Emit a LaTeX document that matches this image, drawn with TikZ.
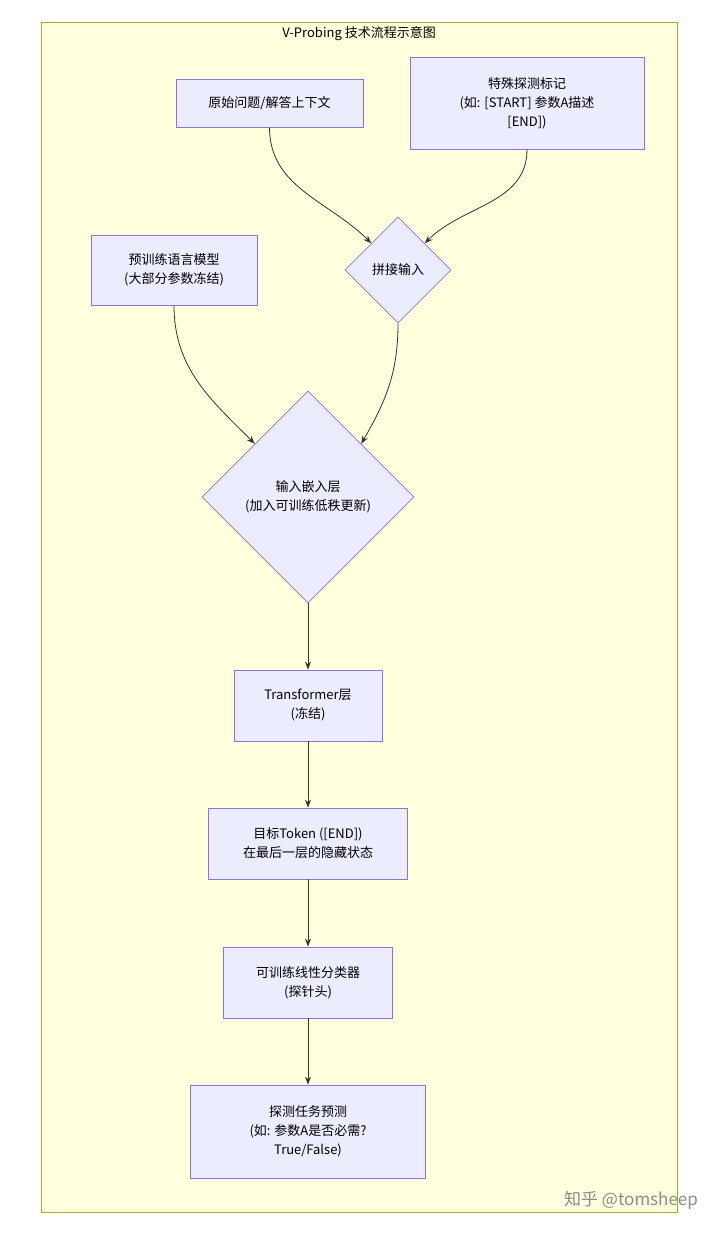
\documentclass[tikz,border=0pt]{standalone}
\usepackage{fontspec}
\setmainfont{Noto Sans CJK SC}
\usetikzlibrary{shapes.geometric,arrows.meta}
\definecolor{nfill}{HTML}{ECECFF}
\definecolor{nline}{HTML}{9370DB}
\definecolor{bgfill}{HTML}{FFFFDE}
\definecolor{bgline}{HTML}{AAAA33}
\begin{document}
\begin{tikzpicture}[x=1pt,y=-1pt,
  box/.style={draw=nline,fill=nfill,line width=0.8pt,align=center,font=\fontsize{13}{19}\selectfont,inner sep=0pt},
  dia/.style={diamond,draw=nline,fill=nfill,line width=0.8pt,align=center,font=\fontsize{13}{19}\selectfont,inner sep=0pt},
  arr/.style={draw=black!80,line width=0.8pt,-{Stealth[length=8pt,width=6pt]}}]
\useasboundingbox (0,0) rectangle (720,1233);
\fill[white] (0,0) rectangle (720,1233);
\draw[fill=bgfill,draw=bgline,line width=0.8pt] (41,22) rectangle (677,1212);
\node[font=\fontsize{13}{15}\selectfont] (title) at (359,34) {V-Probing 技术流程示意图};
\node[box,minimum width=187,minimum height=48] (A) at (269.5,103) {原始问题/解答上下文};
\node[box,minimum width=234,minimum height=92] (B) at (527,103) {特殊探测标记\\(如: [START] 参数A描述\\{}[END])};
\node[dia,minimum width=106,minimum height=106] (C) at (398,270) {拼接输入};
\node[box,minimum width=166,minimum height=70] (D) at (174,270) {预训练语言模型\\(大部分参数冻结)};
\node[dia,minimum width=212,minimum height=212] (E) at (308,497) {输入嵌入层\\(加入可训练低秩更新)};
\node[box,minimum width=148,minimum height=71] (F) at (308,705.5) {Transformer层\\(冻结)};
\node[box,minimum width=199,minimum height=71] (G) at (308,843.5) {目标Token ([END])\\在最后一层的隐藏状态};
\node[box,minimum width=169,minimum height=71] (H) at (308,982.5) {可训练线性分类器\\(探针头)};
\node[box,minimum width=235,minimum height=93] (I) at (308,1131.5) {探测任务预测\\(如: 参数A是否必需?\\True/False)};
\node[text=black!45,font=\fontsize{17}{19}\selectfont] (wm) at (631,1200) {知乎 @tomsheep};
\draw[arr] (A.south) to[out=-90,in=135] (C.north west);
\draw[arr] (B.south) to[out=-90,in=45] (C.north east);
\draw[arr] (D.south) to[out=-90,in=135] (E.north west);
\draw[arr] (C.south) to[out=-90,in=60] (E.north east);
\draw[arr] (E.south) -- (F.north);
\draw[arr] (F.south) -- (G.north);
\draw[arr] (G.south) -- (H.north);
\draw[arr] (H.south) -- (I.north);
\end{tikzpicture}
\end{document}
